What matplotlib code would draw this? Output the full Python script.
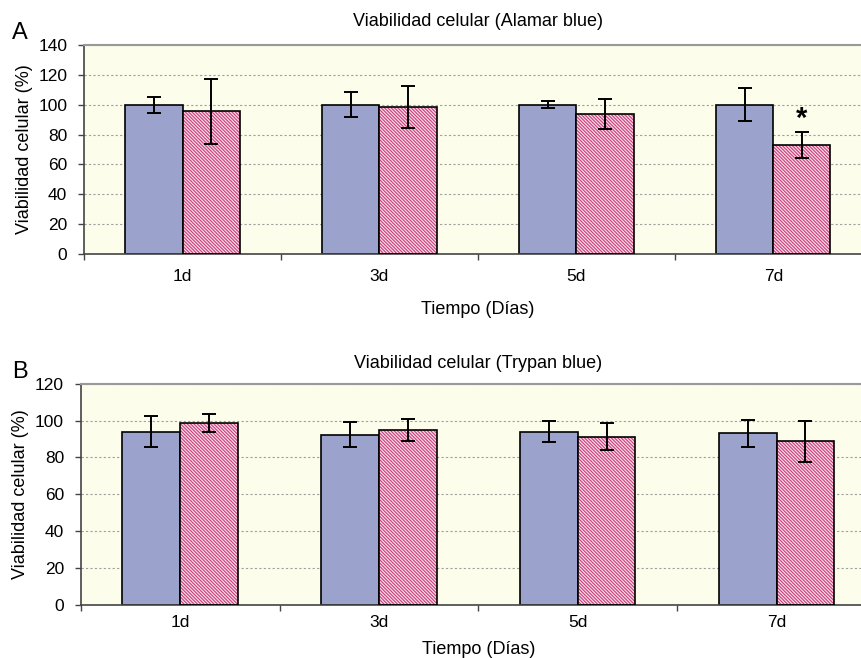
import matplotlib
matplotlib.use("Agg")
import matplotlib.pyplot as plt
import numpy as np

plt.rcParams["font.family"] = ["Liberation Sans", "DejaVu Sans"]
plt.rcParams["hatch.linewidth"] = 0.9

days = ["1d", "3d", "5d", "7d"]

# Alamar blue (panel A)
alamar_ctrl = [100, 100, 100, 100]
alamar_ctrl_err = [5.5, 8.5, 2.5, 11]
alamar_trt = [95.5, 98.5, 93.5, 73]
alamar_trt_err = [21.5, 14, 10, 9]

# Trypan blue (panel B)
trypan_ctrl = [94, 92.4, 94, 93]
trypan_ctrl_err = [8.3, 6.6, 5.6, 7.4]
trypan_trt = [98.6, 95, 91.3, 88.8]
trypan_trt_err = [4.7, 6, 7.4, 11]

BLUE = "#9ba3cc"
PINK = "#cc4580"
BG = "#fdfdec"


def draw_panel(ax, ctrl, ctrl_err, trt, trt_err, ymax, title, xpad, lpad):
    x = np.arange(len(days))
    w = 0.29
    ax.set_facecolor(BG)
    ax.set_axisbelow(True)
    ax.yaxis.grid(True, color="#a0a0a0", linestyle=(0, (2, 2)), linewidth=0.8)

    ax.bar(x - w / 2, ctrl, w, color=BLUE, edgecolor="black", linewidth=1.2, zorder=2)
    ax.bar(x + w / 2, trt, w, color="#fae6ee", edgecolor=PINK, hatch="\\" * 10,
           linewidth=0, zorder=2)
    ax.bar(x + w / 2, trt, w, fill=False, edgecolor="black", linewidth=1.2, zorder=3)

    ax.errorbar(x - w / 2, ctrl, yerr=ctrl_err, fmt="none", ecolor="black",
                elinewidth=1.4, capsize=5, capthick=1.4, zorder=4)
    ax.errorbar(x + w / 2, trt, yerr=trt_err, fmt="none", ecolor="black",
                elinewidth=1.4, capsize=5, capthick=1.4, zorder=4)

    ax.set_xlim(-0.5, len(days) - 0.5)
    ax.set_ylim(0, ymax)
    ax.set_yticks(np.arange(0, ymax + 1, 20))
    ax.set_xticks(x)
    ax.set_xticklabels(days)
    ax.set_xticks(np.arange(-0.5, len(days)), minor=True)
    ax.tick_params(axis="x", which="major", length=0, pad=xpad, labelsize=12.5)
    ax.tick_params(axis="x", which="minor", length=4, width=1, color="#444444")
    ax.tick_params(axis="y", length=4, width=1, color="#444444", pad=8, labelsize=12.5)

    for side in ["left", "bottom"]:
        ax.spines[side].set_color("#444444")
        ax.spines[side].set_linewidth(1.2)
    ax.spines["top"].set_color("#999999")
    ax.spines["top"].set_linewidth(1.5)
    ax.spines["right"].set_visible(False)

    ax.set_title(title, fontsize=13, pad=14)
    ax.set_xlabel("Tiempo (Días)", fontsize=13, labelpad=lpad)
    ax.set_ylabel("Viabilidad celular (%)", fontsize=13, labelpad=4)
    return x, w


fig = plt.figure(figsize=(8.61, 6.58), dpi=100)

ax_a = fig.add_axes([0.0976, 0.614, 0.915, 0.3176])
x, w = draw_panel(ax_a, alamar_ctrl, alamar_ctrl_err, alamar_trt, alamar_trt_err,
                  140, "Viabilidad celular (Alamar blue)", 11, 12)
ax_a.text(x[3] + w / 2, alamar_trt[3] + alamar_trt_err[3] - 1, "*",
          ha="center", va="bottom", fontsize=21, fontweight="bold")

ax_b = fig.add_axes([0.0937, 0.0801, 0.9237, 0.337])
draw_panel(ax_b, trypan_ctrl, trypan_ctrl_err, trypan_trt, trypan_trt_err,
           120, "Viabilidad celular (Trypan blue)", 7, 8)
ax_b.title.set_position((0.5, 1.0))
ax_b.set_title("Viabilidad celular (Trypan blue)", fontsize=13, pad=11)

fig.text(12 / 861, 1 - 33 / 658, "A", fontsize=17, ha="left", va="center")
fig.text(12 / 861, 1 - 372 / 658, "B", fontsize=17, ha="left", va="center")

fig.savefig("out.png", dpi=100)
